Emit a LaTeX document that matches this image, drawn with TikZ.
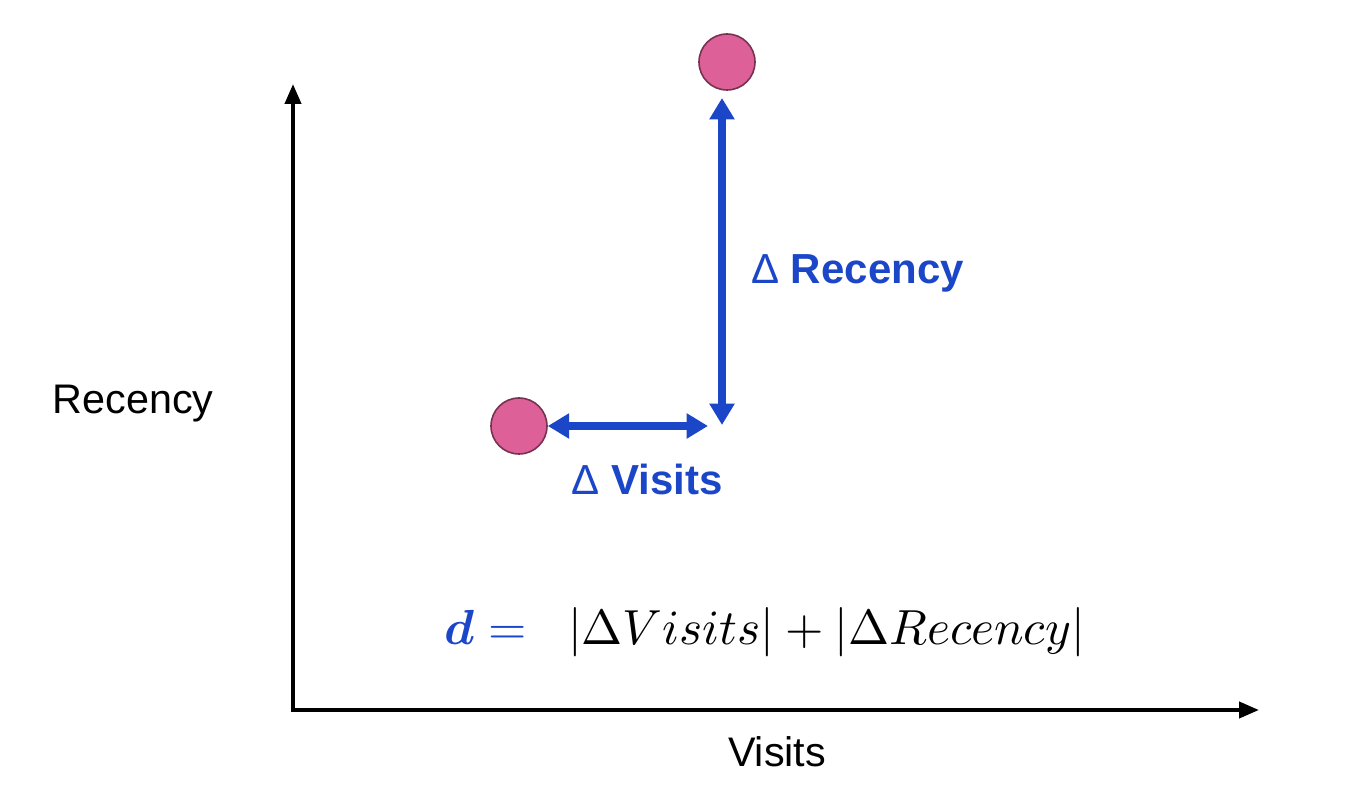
\documentclass[tikz,border=0pt]{standalone}
\usepackage{fontspec}
\usepackage{amsmath}
\usepackage{graphicx}
\setmainfont{Liberation Sans}
\usetikzlibrary{arrows.meta}
\definecolor{dblue}{RGB}{28,70,200}
\definecolor{dpink}{RGB}{221,96,152}
\definecolor{dpinkedge}{RGB}{120,50,80}
\tikzset{
  axis/.style={line width=3pt, -{Triangle[length=15pt,width=12pt]}},
  delta/.style={line width=5.5pt, dblue, {Triangle[length=16pt,width=18pt]}-{Triangle[length=16pt,width=18pt]}},
  dot/.style={circle, fill=dpink, draw=dpinkedge, line width=1.2pt, minimum size=42pt, inner sep=0pt},
  lbl/.style={font=\fontsize{31}{36}\selectfont, inner sep=0pt},
  blbl/.style={font=\fontsize{31.5}{36}\selectfont\bfseries, text=dblue, inner sep=0pt}
}
\begin{document}
\begin{tikzpicture}[x=0.75pt,y=-0.75pt]
\useasboundingbox (0,0) rectangle (1364,812);
\coordinate (o) at (293,710);
\coordinate (ytop) at (293,84);
\coordinate (xend) at (1259,710);
\draw[axis] (o) -- (ytop);
\draw[axis] ([xshift=-1.5pt]o) -- (xend);
\node[dot] (p1) at (727,62) {};
\node[dot] (p2) at (519,426) {};
\coordinate (hend) at (708,426);
\coordinate (vbot) at (722,425);
\coordinate (vtop) at (722,98);
\draw[delta] (p2.east) -- (hend);
\draw[delta] (vbot) -- (vtop);
\node[blbl, anchor=west] (lr) at (751,273) {{\mdseries\char"0394} Recency};
\node[blbl] (lv) at (647,479) {{\mdseries\char"0394} Visits};
\node[lbl] (ylab) at (133,404) {Recency};
\node[lbl] (xlab) at (777,752) {Visits};
\node[inner sep=0pt] (f) at (765,632) {\resizebox{480pt}{!}{$\color{dblue}\boldsymbol{d} =\;\; \color{black}|\Delta Visits| + |\Delta Recency|$}};
\end{tikzpicture}
\end{document}
